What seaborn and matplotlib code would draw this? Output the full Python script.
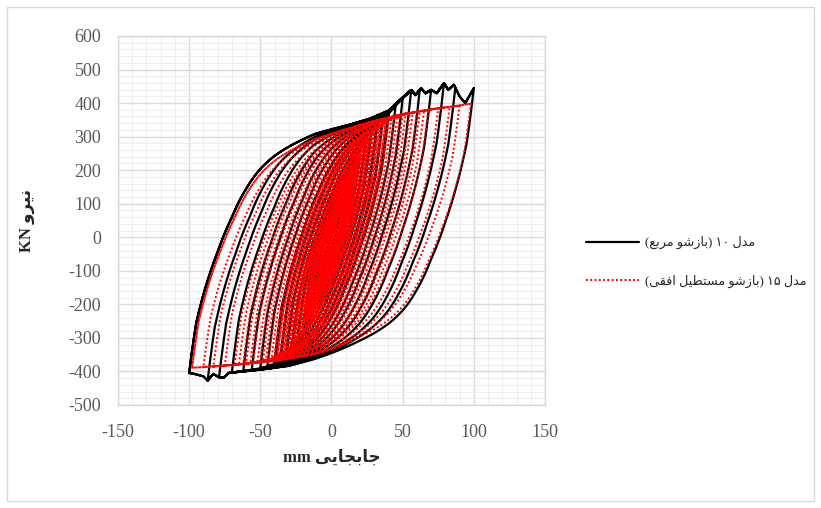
import numpy as np
import pandas as pd
import seaborn as sns
import matplotlib
matplotlib.use("Agg")
import matplotlib.pyplot as plt
from matplotlib.patches import Rectangle
from matplotlib.ticker import MultipleLocator

# ------------------------------------------------------------------
# Data
# ------------------------------------------------------------------
SERIES_LABELS = ["مدل ۱۰ (بازشو مربع)", "مدل ۱۵ (بازشو مستطیل افقی)"]
X_LABEL = "جابجایی mm"
Y_LABEL = "نیرو KN"
X_TICKS = [-150, -100, -50, 0, 50, 100, 150]
Y_TICKS = [-500, -400, -300, -200, -100, 0, 100, 200, 300, 400, 500, 600]

# cyclic displacement amplitudes (mm), in loading order (each cycle: -A then +A)
AMP_M10 = [2, 2, 2, 2, 4, 4, 4, 4, 6, 6, 6, 8, 8, 8, 10, 10, 13, 13, 16, 16,
           20, 20, 24, 24, 28, 28, 32, 32, 36, 36, 40, 40, 45, 50, 56, 62,
           70, 79, 87, 100, 100]
AMP_M15 = [1, 1, 1, 2, 2, 2, 3, 3, 3, 4, 4, 4, 5, 5, 5, 6, 6, 6, 7, 7, 7,
           8, 8, 8, 9, 9, 9, 10, 10, 10, 11, 11, 12, 12, 13, 13, 14, 14,
           15, 15, 16, 16, 17, 17, 18, 18, 19, 19, 20, 20, 21, 22, 22, 23,
           24, 24, 25, 26, 26, 27, 28, 28, 29, 30, 30, 31, 32, 33, 33, 34,
           35, 36, 36, 38, 38, 40, 40, 42, 44, 46, 48, 50, 52, 55, 57, 60,
           62, 65, 68, 75, 83, 90, 98, 98]

# force envelopes (kN) the branches run into
UP_X_M10 = [-100, -60, -36, -12, 10, 27, 40, 48, 52, 56, 59, 63, 66, 70, 74,
            79, 82, 86, 90, 94, 100]
UP_F_M10 = [190, 245, 281, 315, 335, 355, 378, 410, 425, 440, 425, 445, 430,
            440, 430, 460, 440, 455, 420, 400, 445]
LO_X_M10 = [-100, -96, -90, -87, -83, -79, -76, -72, -60, -48, -30, -12, 0,
            20, 50, 80, 100]
LO_F_M10 = [-405, -408, -415, -428, -408, -418, -420, -405, -400, -395, -385,
            -366, -350, -321, -280, -240, -205]
UP_X_M15 = [-100, -60, -36, -12, 10, 27, 50, 70, 85, 100]
UP_F_M15 = [180, 235, 268, 300, 325, 345, 368, 382, 390, 400]
LO_X_M15 = [-100, -80, -60, -40, -12, 0, 20, 50, 80, 100]
LO_F_M15 = [-390, -385, -378, -370, -352, -340, -310, -270, -230, -200]

# remaining share of the gap to the envelope vs distance from reversal (mm)
BRANCH_S = [0, 5, 10, 20, 30, 40, 50, 60, 80, 100, 130, 400]
BRANCH_R = [1, 0.76, 0.63, 0.44, 0.29, 0.17, 0.095, 0.055, 0.02, 0.007,
            0.002, 0.00001]


# ------------------------------------------------------------------
# Arabic-script shaping for display (matplotlib has no shaping engine)
# ------------------------------------------------------------------
FORMS = {
    "\u0627": ("\uFE8D", "\uFE8E", None, None),
    "\u062F": ("\uFEA9", "\uFEAA", None, None),
    "\u0631": ("\uFEAD", "\uFEAE", None, None),
    "\u0632": ("\uFEAF", "\uFEB0", None, None),
    "\u0648": ("\uFEED", "\uFEEE", None, None),
    "\u0628": ("\uFE8F", "\uFE90", "\uFE91", "\uFE92"),
    "\u062A": ("\uFE95", "\uFE96", "\uFE97", "\uFE98"),
    "\u062C": ("\uFE9D", "\uFE9E", "\uFE9F", "\uFEA0"),
    "\u0633": ("\uFEB1", "\uFEB2", "\uFEB3", "\uFEB4"),
    "\u0634": ("\uFEB5", "\uFEB6", "\uFEB7", "\uFEB8"),
    "\u0637": ("\uFEC1", "\uFEC2", "\uFEC3", "\uFEC4"),
    "\u0639": ("\uFEC9", "\uFECA", "\uFECB", "\uFECC"),
    "\u0641": ("\uFED1", "\uFED2", "\uFED3", "\uFED4"),
    "\u0642": ("\uFED5", "\uFED6", "\uFED7", "\uFED8"),
    "\u0644": ("\uFEDD", "\uFEDE", "\uFEDF", "\uFEE0"),
    "\u0645": ("\uFEE1", "\uFEE2", "\uFEE3", "\uFEE4"),
    "\u0646": ("\uFEE5", "\uFEE6", "\uFEE7", "\uFEE8"),
    "\u06CC": ("\uFBFC", "\uFBFD", "\uFBFE", "\uFBFF"),
}


def shape_rtl(text):
    out = []
    n = len(text)
    for i, ch in enumerate(text):
        if ch not in FORMS:
            out.append(ch)
            continue
        prev = text[i - 1] if i > 0 else ""
        nxt = text[i + 1] if i + 1 < n else ""
        jp = prev in FORMS and FORMS[prev][2] is not None
        jn = FORMS[ch][2] is not None and nxt in FORMS
        iso, fin, ini, med = FORMS[ch]
        if jp and jn:
            out.append(med)
        elif jp:
            out.append(fin)
        elif jn:
            out.append(ini)
        else:
            out.append(iso)
    vis = out[::-1]
    res, run = [], []
    for ch in vis:
        if (ch.isascii() and ch.isalnum()) or ("\u06F0" <= ch <= "\u06F9"):
            run.append(ch)
        else:
            res.extend(run[::-1]); run = []
            res.append({"(": ")", ")": "("}.get(ch, ch))
    res.extend(run[::-1])
    return "".join(res)


# ------------------------------------------------------------------
# Build the load path of each model from its amplitudes and envelopes
# ------------------------------------------------------------------
def load_path(amps, ux, uf, lx, lf):
    xs, fs = [0.0], [0.0]
    x0, f0 = 0.0, 0.0
    logr = np.log(BRANCH_R)
    for a in amps:
        for target in (-a, a):
            n = int(abs(target - x0) / 0.25) + 2
            x = np.linspace(x0, target, n)[1:]
            r = np.exp(np.interp(np.abs(x - x0), BRANCH_S, logr))
            if target > x0:
                env, env0 = np.interp(x, ux, uf), np.interp(x0, ux, uf)
            else:
                env, env0 = np.interp(x, lx, lf), np.interp(x0, lx, lf)
            f = env + (f0 - env0) * r
            xs.extend(x); fs.extend(f)
            x0, f0 = x[-1], f[-1]
    return np.array(xs), np.array(fs)


x10, f10 = load_path(AMP_M10, UP_X_M10, UP_F_M10, LO_X_M10, LO_F_M10)
x15, f15 = load_path(AMP_M15, UP_X_M15, UP_F_M15, LO_X_M15, LO_F_M15)
df10 = pd.DataFrame({"disp": x10, "force": f10})
df15 = pd.DataFrame({"disp": x15, "force": f15})

# ------------------------------------------------------------------
# Plot
# ------------------------------------------------------------------
sns.set_style("white")
plt.rcParams["font.family"] = ["Liberation Serif", "DejaVu Sans"]
plt.rcParams["axes.unicode_minus"] = False

fig = plt.figure(figsize=(8.21, 5.08), dpi=100)
fig.patches.append(Rectangle((0.009, 0.014), 0.982, 0.972, transform=fig.transFigure,
                             fill=False, edgecolor="#d9d9d9", lw=1.0))
ax = fig.add_axes([0.1437, 0.2028, 0.5201, 0.7264])

sns.lineplot(data=df10, x="disp", y="force", sort=False, estimator=None,
             color="black", lw=1.6, ax=ax, zorder=3)
sns.lineplot(data=df15, x="disp", y="force", sort=False, estimator=None,
             color="#ff0000", lw=1.4, ax=ax, zorder=4)
ax.lines[1].set_dashes((1, 1.2))

ax.set_xlim(-150, 150)
ax.set_ylim(-500, 600)
ax.set_xticks(X_TICKS)
ax.set_yticks(Y_TICKS)
ax.xaxis.set_minor_locator(MultipleLocator(10))
ax.yaxis.set_minor_locator(MultipleLocator(20))
ax.grid(which="major", color="#d9d9d9", lw=1.0, zorder=0)
ax.grid(which="minor", color="#eeeeee", lw=0.8, zorder=0)
ax.set_axisbelow(True)
ax.tick_params(which="both", length=0)
ax.tick_params(axis="y", pad=12, labelsize=13, labelcolor="#595959")
ax.tick_params(axis="x", pad=14, labelsize=13, labelcolor="#595959")
for sp in ax.spines.values():
    sp.set_color("#d9d9d9")
    sp.set_linewidth(1.0)

ax.set_xlabel(shape_rtl(X_LABEL), fontsize=12, fontweight="bold", labelpad=6)
ax.set_ylabel(shape_rtl(Y_LABEL), fontsize=12, fontweight="bold", labelpad=24)

ax.legend(handles=[ax.lines[0], ax.lines[1]],
          labels=[shape_rtl(s) for s in SERIES_LABELS],
          loc="center left", bbox_to_anchor=(0.714, 0.484),
          bbox_transform=fig.transFigure, frameon=False, fontsize=9.2,
          handlelength=4.1, handletextpad=0.5, labelspacing=2.0,
          borderpad=0, borderaxespad=0)

fig.savefig("out.png", dpi=100)
